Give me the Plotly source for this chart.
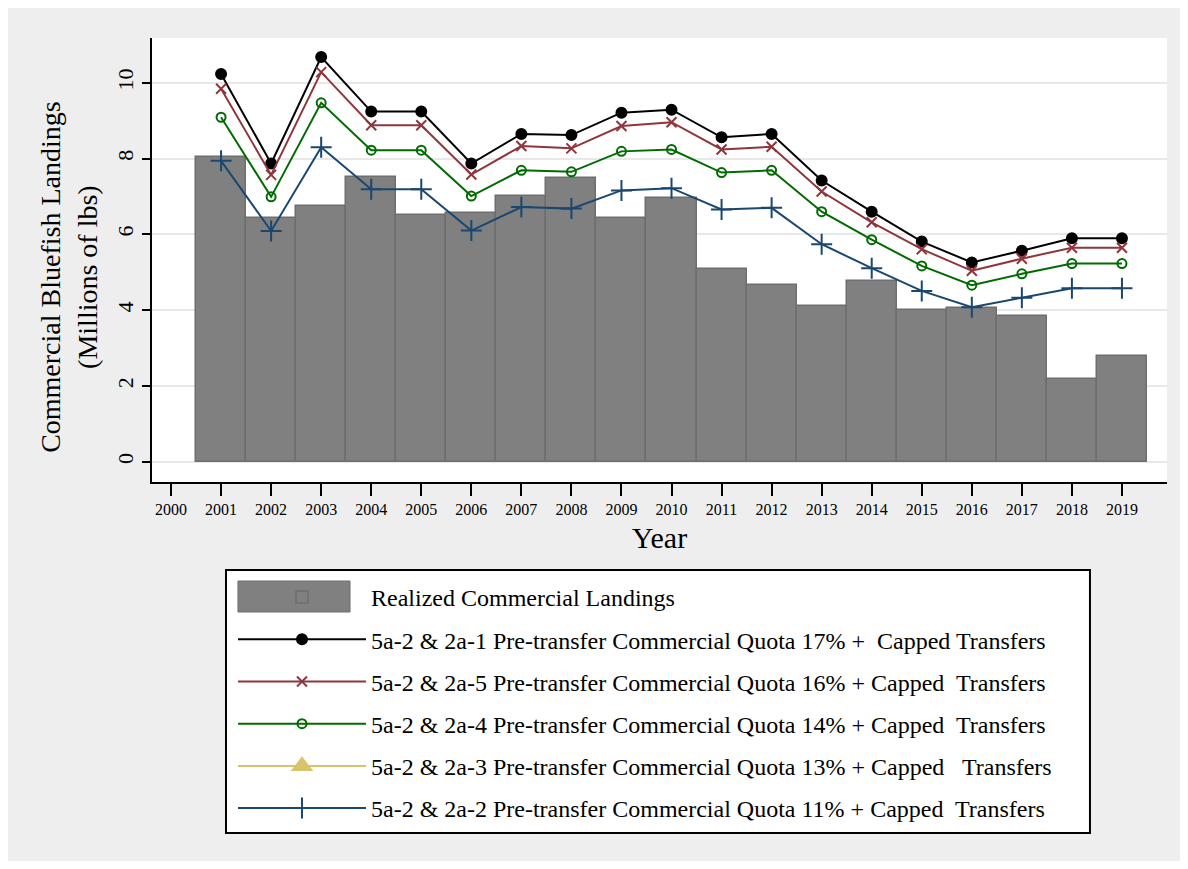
import plotly.graph_objects as go

years = list(range(2001, 2020))
realized = [8.04, 6.42, 6.75, 7.51, 6.51, 6.57, 7.01, 7.48, 6.42, 6.96,
            5.08, 4.66, 4.11, 4.76, 4.00, 4.06, 3.84, 2.18, 2.79]
quota_17 = [10.23, 7.87, 10.68, 9.24, 9.24, 7.87, 8.65, 8.62, 9.21, 9.29,
            8.56, 8.65, 7.42, 6.60, 5.81, 5.26, 5.57, 5.90, 5.90]
quota_16 = [9.84, 7.57, 10.28, 8.88, 8.88, 7.58, 8.33, 8.27, 8.86, 8.96,
            8.24, 8.31, 7.13, 6.32, 5.61, 5.04, 5.36, 5.65, 5.65]
quota_14 = [9.09, 6.99, 9.47, 8.22, 8.22, 7.01, 7.69, 7.65, 8.19, 8.24,
            7.63, 7.69, 6.60, 5.86, 5.17, 4.66, 4.96, 5.23, 5.23]
quota_13 = [None]  # only appears in the legend
quota_11 = [7.94, 6.09, 8.30, 7.19, 7.19, 6.10, 6.72, 6.68, 7.16, 7.22,
            6.66, 6.70, 5.74, 5.11, 4.51, 4.08, 4.33, 4.58, 4.58]
year_ticks = list(range(2000, 2020))

names = [
    "5a-2 & 2a-1 Pre-transfer Commercial Quota 17% +  Capped Transfers",
    "5a-2 & 2a-5 Pre-transfer Commercial Quota 16% + Capped  Transfers",
    "5a-2 & 2a-4 Pre-transfer Commercial Quota 14% + Capped  Transfers",
    "5a-2 & 2a-3 Pre-transfer Commercial Quota 13% + Capped   Transfers",
    "5a-2 & 2a-2 Pre-transfer Commercial Quota 11% + Capped  Transfers",
]
series = [quota_17, quota_16, quota_14, quota_13, quota_11]
colors = ["#000000", "#90353B", "#006B00", "#D8C46A", "#1A476F"]
symbols = ["circle", "x-thin", "circle-open", "triangle-up", "cross-thin"]
sizes = [10, 10, 9, 16, 15]

font = "Liberation Serif, Times New Roman, serif"
bar_gray = "#808080"

fig = go.Figure()
fig.add_trace(go.Bar(x=years, y=realized, name="Realized Commercial Landings",
                     width=1, marker=dict(color=bar_gray, line=dict(color="#6E6E6E", width=1.5)),
                     legendgroup="g0"))
for i, (nm, ys) in enumerate(zip(names, series)):
    fig.add_trace(go.Scatter(
        x=years[:len(ys)], y=ys, name=nm, mode="lines+markers",
        line=dict(color=colors[i], width=2),
        marker=dict(symbol=symbols[i], size=sizes[i], color=colors[i],
                    line=dict(color=colors[i], width=2)),
        legendgroup="g%d" % (i + 1)))

# legend frame and the wide bar swatch (plotly's bar key is a small square)
fig.add_shape(type="rect", xref="paper", yref="paper", x0=0.0729, x1=0.9241,
              y0=-0.7905, y1=-0.1982, fillcolor="#FFFFFF",
              line=dict(color="#000000", width=2), layer="below")
fig.add_shape(type="rect", xref="paper", yref="paper", x0=0.0847, x1=0.1951,
              y0=-0.2928, y1=-0.2230, fillcolor=bar_gray,
              line=dict(color="#6E6E6E", width=1), layer="below")

fig.add_annotation(text="Commercial Bluefish Landings<br>(Millions of lbs)",
                   xref="paper", yref="paper", x=0, y=0.462, xshift=-83,
                   xanchor="center", yanchor="middle", textangle=-90,
                   showarrow=False, font=dict(size=28, family=font))

fig.update_layout(
    width=1172, height=853,
    paper_bgcolor="#EEEEEE", plot_bgcolor="#FFFFFF",
    margin=dict(l=144, r=13, t=30, b=379),
    font=dict(family=font, color="#000000"),
    bargap=0,
    legend=dict(x=0.0798, y=-0.2095, xanchor="left", yanchor="top",
                bgcolor="rgba(0,0,0,0)", borderwidth=0,
                font=dict(size=24, family=font), tracegroupgap=8,
                traceorder="grouped", itemwidth=128),
    xaxis=dict(range=[1999.62, 2019.9], tickmode="array", tickvals=year_ticks,
               ticks="outside", ticklen=12, tickwidth=2, tickcolor="#000000",
               showline=True, linecolor="#000000", linewidth=2, showgrid=False,
               tickfont=dict(size=16), title=dict(text="Year", font=dict(size=30), standoff=10)),
    yaxis=dict(range=[-0.53, 11.18], tickvals=[0, 2, 4, 6, 8, 10], tickangle=-90,
               ticks="outside", ticklen=8, tickwidth=2, tickcolor="#000000",
               showline=True, linecolor="#000000", linewidth=2,
               showgrid=True, gridcolor="#E8E8E8", gridwidth=2, zeroline=False,
               tickfont=dict(size=22)),
)

fig.write_html("out.html")
